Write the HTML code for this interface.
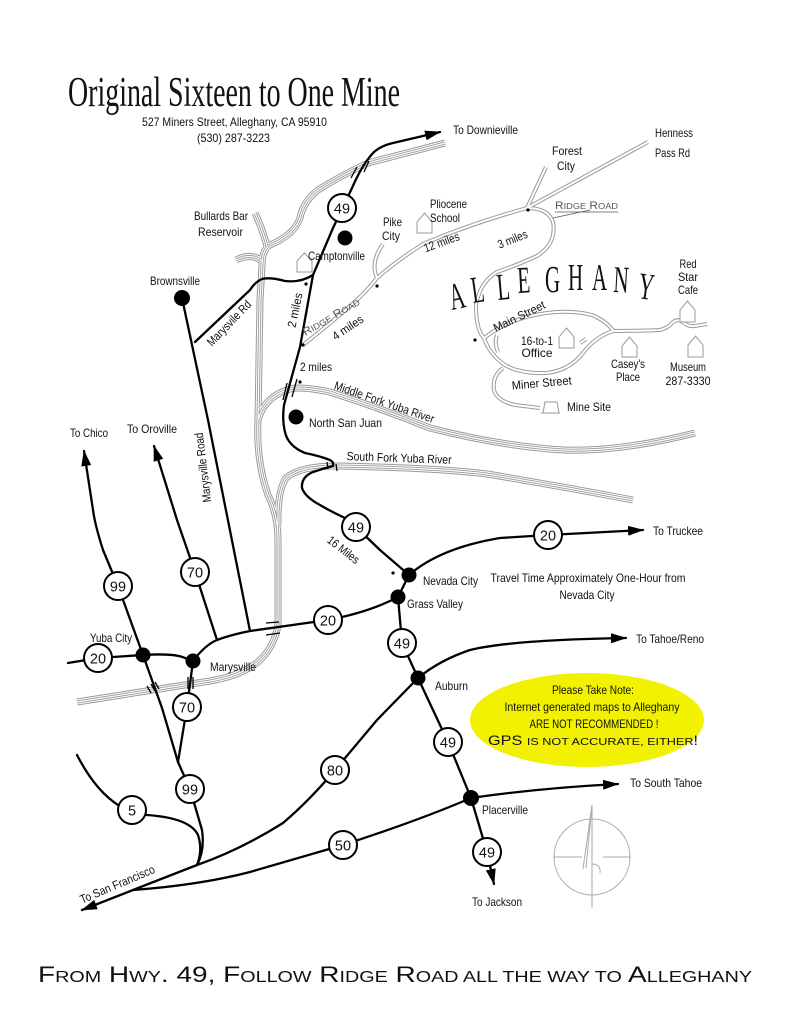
<!DOCTYPE html>
<html><head><meta charset="utf-8"><style>
html,body{margin:0;padding:0;background:#fff;}
svg{display:block}
.l{font-family:"Liberation Sans",sans-serif;font-size:12px;fill:#111}
.n{font-family:"Liberation Sans",sans-serif;font-size:14.5px;fill:#111;text-anchor:middle}
.m{text-anchor:middle}
.rd{fill:none;stroke:#000;stroke-width:2.3;stroke-linecap:round;stroke-linejoin:round}
.g1{fill:none;stroke:#9a9a9a;stroke-width:7}
.g2{fill:none;stroke:#fff;stroke-width:5}
.g3{fill:none;stroke:#9a9a9a;stroke-width:3}
.g4{fill:none;stroke:#fff;stroke-width:1.2}
.d1{fill:none;stroke:#9a9a9a;stroke-width:4}
.d2{fill:none;stroke:#fff;stroke-width:2}
.cab{fill:#fff;stroke:#999;stroke-width:1}
.sh{fill:#fff;stroke:#000;stroke-width:2}
.hm{stroke:#000;stroke-width:1.3;fill:none}
.al{font-family:"Liberation Serif",serif;font-size:38px;fill:#111}
</style></head><body>
<svg width="791" height="1024" viewBox="0 0 791 1024" xmlns="http://www.w3.org/2000/svg">
<defs>
<marker id="ar" markerWidth="16" markerHeight="10" refX="15" refY="5" orient="auto" markerUnits="userSpaceOnUse">
<path d="M0,0 L16,5 L0,10 z" fill="#000"/>
</marker>
<path id="rA" d="M445,143 L368,163 Q340,176 318,190 Q303,202 300,218 Q294,235 270,245 Q262,250 262,265 L260,300 L258,420 Q256,460 268,495 Q278,515 278,540 L278,625 Q274,648 258,662 Q240,676 210,681 L77,702"/>
<path id="rB" d="M255,213 Q262,228 267,246"/>
<path id="rC" d="M236,260 Q252,252 263,262"/>
<path id="rD" d="M695,433 Q620,452 563,450 Q500,446 430,428 Q380,408 330,392 Q300,386 290,389 Q265,396 258,420"/>
<path id="rE" d="M633,500 Q560,486 487,474 Q440,468 337,466 Q300,466 286,478 Q277,492 278,525"/>
<path id="dA" d="M303,345 Q335,320 360,297 Q370,287 377,278 Q395,262 423,244 Q470,224 527,208 Q548,208 553,222 Q557,243 537,256 Q515,266 497,272 Q480,282 476,305 Q476,330 484,338"/>
<path id="dB" d="M377,278 Q370,262 383,244"/>
<path id="dC" d="M527,208 L546,167"/>
<path id="dD" d="M527,208 L648,142"/>
<path id="dE" d="M484,338 Q505,322 530,316 Q565,308 592,315 Q608,322 613,331 Q640,331 660,330 Q668,328 672,323 Q677,318 683,322 Q688,327 695,326 L707,324"/>
<path id="dF" d="M484,338 Q490,355 505,365 Q520,374 547,373 Q570,370 583,353 Q595,337 613,331"/>
<path id="dG" d="M497,335 Q494,343 498,352"/>
<path id="dH" d="M503,368 Q492,376 494,390 Q497,401 515,405 L540,408"/>
<path id="dI" d="M580,343 L586,339"/>
</defs>

<!-- Title -->
<text x="68" y="106" font-family="Liberation Serif, serif" font-size="42" fill="#111" textLength="332" lengthAdjust="spacingAndGlyphs">Original Sixteen to One Mine</text>
<text x="142" y="126" class="l" font-size="13" textLength="185" lengthAdjust="spacingAndGlyphs">527 Miners Street, Alleghany, CA 95910</text>
<text x="197" y="142" class="l" font-size="13" textLength="73" lengthAdjust="spacingAndGlyphs">(530) 287-3223</text>

<!-- Rivers (grey multi-line) -->
<g>
<use href="#rA" class="g1"/><use href="#rB" class="g1"/><use href="#rC" class="g1"/><use href="#rD" class="g1"/><use href="#rE" class="g1"/>
<use href="#rA" class="g2"/><use href="#rB" class="g2"/><use href="#rC" class="g2"/><use href="#rD" class="g2"/><use href="#rE" class="g2"/>
<use href="#rA" class="g3"/><use href="#rB" class="g3"/><use href="#rC" class="g3"/><use href="#rD" class="g3"/><use href="#rE" class="g3"/>
<use href="#rA" class="g4"/><use href="#rB" class="g4"/><use href="#rC" class="g4"/><use href="#rD" class="g4"/><use href="#rE" class="g4"/>
</g>

<!-- Ridge Road and local streets (double line) -->
<g>
<use href="#dA" class="d1"/><use href="#dB" class="d1"/><use href="#dC" class="d1"/><use href="#dD" class="d1"/><use href="#dE" class="d1"/><use href="#dF" class="d1"/><use href="#dG" class="d1"/><use href="#dH" class="d1"/><use href="#dI" class="d1"/>
<use href="#dA" class="d2"/><use href="#dB" class="d2"/><use href="#dC" class="d2"/><use href="#dD" class="d2"/><use href="#dE" class="d2"/><use href="#dF" class="d2"/><use href="#dG" class="d2"/><use href="#dH" class="d2"/><use href="#dI" class="d2"/>
</g>

<!-- Black roads -->
<path class="rd" marker-end="url(#ar)" d="M409,575 L380,550 L356,527 L345,518 Q330,511 320,505 Q305,497 302,488 Q301,477 313,472 Q325,468 333,466 Q334,462 330,460 Q320,456 305,453 Q288,446 285,432 Q282,420 284,405 L300,347 L313,275 L333,228 L352,188 Q362,165 373,153 Q380,146 393,143 L440,132"/>
<path class="rd" d="M313,275 Q300,283 285,281 Q270,277 262,279 Q255,282 250,290 L195,342"/>
<path class="rd" d="M182,298 L208,420 L250,631"/>
<path class="rd" d="M68,663 L98,658 L143,655 Q175,653 185,658 L193,661 Q205,645 217,640 Q230,635 250,631 L328,620 Q370,612 398,597"/>
<path class="rd" marker-end="url(#ar)" d="M143,655 L118,586 L103,550 Q95,525 93,510 L84,451"/>
<path class="rd" marker-end="url(#ar)" d="M217,640 L195,572 L177,520 L154,446"/>
<path class="rd" d="M143,655 L162,708 L178,762 L190,789 L202,830 Q205,850 197,865"/>
<path class="rd" d="M193,661 L187,707 L178,762"/>
<path class="rd" d="M77,755 Q95,790 118,805 L132,810 L147,815 Q190,818 198,835 Q203,850 197,865"/>
<path class="rd" marker-end="url(#ar)" d="M418,678 L377,720 L335,770 Q310,800 283,823 Q240,850 197,865 L133,890 L82,910"/>
<path class="rd" marker-end="url(#ar)" d="M133,890 Q200,885 250,872 L343,845 Q420,820 471,798 Q540,788 618,784"/>
<path class="rd" marker-end="url(#ar)" d="M409,575 L398,597 L402,643 L418,678 L448,742 L471,798 L487,852 L494,884"/>
<path class="rd" marker-end="url(#ar)" d="M409,575 Q440,548 500,538 L548,535 L643,530"/>
<path class="rd" marker-end="url(#ar)" d="M418,678 Q440,660 470,650 Q510,640 626,638"/>

<!-- bridge / hash marks -->
<path class="hm" d="M351,178 L357,167 M364,172 L369,161"/>
<path class="hm" d="M283,400 L287,383 M292,397 L297,379"/>
<path class="hm" d="M327,462 L328,469 M336,464 L337,471"/>
<path class="hm" d="M266,623 L279,622 M266,635 L280,633"/>
<path class="hm" d="M147,686 L151,693 M151,684 L155,691 M155,682 L159,689"/>
<path class="hm" d="M188,677 L188,689 M193,677 L193,689"/>

<!-- Shields -->
<g>
<circle class="sh" cx="342" cy="208" r="14"/><text class="n" x="342" y="213.5">49</text>
<circle class="sh" cx="356" cy="527" r="14"/><text class="n" x="356" y="532.5">49</text>
<circle class="sh" cx="548" cy="535" r="14"/><text class="n" x="548" y="540.5">20</text>
<circle class="sh" cx="328" cy="620" r="14"/><text class="n" x="328" y="625.5">20</text>
<circle class="sh" cx="118" cy="586" r="14"/><text class="n" x="118" y="591.5">99</text>
<circle class="sh" cx="195" cy="572" r="14"/><text class="n" x="195" y="577.5">70</text>
<circle class="sh" cx="98" cy="658" r="14"/><text class="n" x="98" y="663.5">20</text>
<circle class="sh" cx="402" cy="643" r="14"/><text class="n" x="402" y="648.5">49</text>
<circle class="sh" cx="187" cy="707" r="14"/><text class="n" x="187" y="712.5">70</text>
<circle class="sh" cx="448" cy="742" r="14"/><text class="n" x="448" y="747.5">49</text>
<circle class="sh" cx="335" cy="770" r="14"/><text class="n" x="335" y="775.5">80</text>
<circle class="sh" cx="190" cy="789" r="14"/><text class="n" x="190" y="794.5">99</text>
<circle class="sh" cx="132" cy="810" r="14"/><text class="n" x="132" y="815.5">5</text>
<circle class="sh" cx="343" cy="845" r="14"/><text class="n" x="343" y="850.5">50</text>
<circle class="sh" cx="487" cy="852" r="14"/><text class="n" x="487" y="857.5">49</text>
</g>

<!-- Town dots -->
<g fill="#000">
<circle cx="345" cy="238" r="7.5"/>
<circle cx="182" cy="298" r="8"/>
<circle cx="296" cy="417" r="7.5"/>
<circle cx="409" cy="575" r="7.5"/>
<circle cx="398" cy="597" r="7.5"/>
<circle cx="143" cy="655" r="7.5"/>
<circle cx="193" cy="661" r="7.5"/>
<circle cx="418" cy="678" r="7.5"/>
<circle cx="471" cy="798" r="8"/>
<circle cx="303" cy="345" r="1.6"/>
<circle cx="300" cy="382" r="1.6"/>
<circle cx="393" cy="573" r="1.6"/>
<circle cx="475" cy="340" r="1.6"/>
<circle cx="528" cy="210" r="1.6"/>
<circle cx="377" cy="286" r="1.6"/>
<circle cx="306" cy="284" r="1.6"/>
</g>

<!-- Cabins -->
<path class="cab" d="M297,272 L297,261 L304.5,253 L312,261 L312,272 Z"/>
<path class="cab" d="M417,233 L417,222 L424.5,213 L432,222 L432,233 Z"/>
<path class="cab" d="M559,348 L559,337 L566.5,328 L574,337 L574,348 Z"/>
<path class="cab" d="M622,357 L622,346 L629.5,337 L637,346 L637,357 Z"/>
<path class="cab" d="M680,322 L680,310 L687.5,301 L695,310 L695,322 Z"/>
<path class="cab" d="M688,357 L688,345 L695.5,336 L703,345 L703,357 Z"/>
<path class="cab" d="M541,413 L560,413 M543,413 L545,402 L557,402 L559,413"/>

<!-- Labels -->
<g class="l">
<text x="453" y="134" textLength="65" lengthAdjust="spacingAndGlyphs">To Downieville</text>
<text x="655" y="137" textLength="38" lengthAdjust="spacingAndGlyphs">Henness</text>
<text x="655" y="157" textLength="35" lengthAdjust="spacingAndGlyphs">Pass Rd</text>
<text x="552" y="155" textLength="30" lengthAdjust="spacingAndGlyphs">Forest</text>
<text x="557" y="170" textLength="18" lengthAdjust="spacingAndGlyphs">City</text>
<text x="430" y="208" textLength="37" lengthAdjust="spacingAndGlyphs">Pliocene</text>
<text x="430" y="222" textLength="30" lengthAdjust="spacingAndGlyphs">School</text>
<text x="383" y="226" textLength="19" lengthAdjust="spacingAndGlyphs">Pike</text>
<text x="382" y="240" textLength="18" lengthAdjust="spacingAndGlyphs">City</text>
<text x="555" y="209" font-size="11" fill="#555" textLength="63" lengthAdjust="spacingAndGlyphs">R<tspan font-size="8.5">IDGE</tspan> R<tspan font-size="8.5">OAD</tspan></text>
<text transform="translate(443,246) rotate(-20)" class="m" textLength="37" lengthAdjust="spacingAndGlyphs">12 miles</text>
<text transform="translate(514,243) rotate(-22)" class="m" textLength="31" lengthAdjust="spacingAndGlyphs">3 miles</text>
<text x="688" y="268" class="m" textLength="17" lengthAdjust="spacingAndGlyphs">Red</text>
<text x="688" y="281" class="m" textLength="20" lengthAdjust="spacingAndGlyphs">Star</text>
<text x="688" y="294" class="m" textLength="20" lengthAdjust="spacingAndGlyphs">Cafe</text>
<text transform="translate(521,320) rotate(-26)" class="m" textLength="56" lengthAdjust="spacingAndGlyphs">Main Street</text>
<text x="537" y="345" class="m" textLength="32" lengthAdjust="spacingAndGlyphs">16-to-1</text>
<text x="537" y="357" class="m" textLength="31" lengthAdjust="spacingAndGlyphs">Office</text>
<text x="628" y="368" class="m" textLength="34" lengthAdjust="spacingAndGlyphs">Casey's</text>
<text x="628" y="381" class="m" textLength="24" lengthAdjust="spacingAndGlyphs">Place</text>
<text x="688" y="371" class="m" textLength="36" lengthAdjust="spacingAndGlyphs">Museum</text>
<text x="688" y="385" class="m" textLength="45" lengthAdjust="spacingAndGlyphs">287-3330</text>
<text transform="translate(542,387) rotate(-5)" class="m" textLength="60" lengthAdjust="spacingAndGlyphs">Miner Street</text>
<text x="567" y="411" textLength="44" lengthAdjust="spacingAndGlyphs">Mine Site</text>
<text x="194" y="220" textLength="54" lengthAdjust="spacingAndGlyphs">Bullards Bar</text>
<text x="198" y="236" textLength="45" lengthAdjust="spacingAndGlyphs">Reservoir</text>
<text x="308" y="260" textLength="57" lengthAdjust="spacingAndGlyphs">Camptonville</text>
<text x="150" y="285" textLength="50" lengthAdjust="spacingAndGlyphs">Brownsville</text>
<text transform="translate(232,326) rotate(-46)" class="m" textLength="58" lengthAdjust="spacingAndGlyphs">Marysvile Rd</text>
<text transform="translate(299,311) rotate(-78)" class="m" textLength="35" lengthAdjust="spacingAndGlyphs">2 miles</text>
<text transform="translate(333,320) rotate(-30)" class="m" font-size="11" fill="#555" textLength="64" lengthAdjust="spacingAndGlyphs">R<tspan font-size="8.5">IDGE</tspan> R<tspan font-size="8.5">OAD</tspan></text>
<text transform="translate(350,331) rotate(-34)" class="m" textLength="35" lengthAdjust="spacingAndGlyphs">4 miles</text>
<text x="300" y="371" textLength="32" lengthAdjust="spacingAndGlyphs">2 miles</text>
<text transform="translate(383,406) rotate(19)" class="m" textLength="105" lengthAdjust="spacingAndGlyphs">Middle Fork Yuba River</text>
<text x="309" y="427" textLength="73" lengthAdjust="spacingAndGlyphs">North San Juan</text>
<text transform="translate(399,462) rotate(2)" class="m" textLength="105" lengthAdjust="spacingAndGlyphs">South Fork  Yuba River</text>
<text transform="translate(207,467) rotate(-97)" class="m" textLength="70" lengthAdjust="spacingAndGlyphs">Marysville Road</text>
<text x="70" y="437" textLength="38" lengthAdjust="spacingAndGlyphs">To Chico</text>
<text x="127" y="433" textLength="50" lengthAdjust="spacingAndGlyphs">To Oroville</text>
<text transform="translate(341,553) rotate(38)" class="m" textLength="37" lengthAdjust="spacingAndGlyphs">16 Miles</text>
<text x="423" y="585" textLength="55" lengthAdjust="spacingAndGlyphs">Nevada City</text>
<text x="407" y="608" textLength="56" lengthAdjust="spacingAndGlyphs">Grass Valley</text>
<text x="588" y="582" class="m" textLength="195" lengthAdjust="spacingAndGlyphs">Travel Time Approximately One-Hour from</text>
<text x="587" y="599" class="m" textLength="55" lengthAdjust="spacingAndGlyphs">Nevada City</text>
<text x="653" y="535" textLength="50" lengthAdjust="spacingAndGlyphs">To Truckee</text>
<text x="636" y="643" textLength="68" lengthAdjust="spacingAndGlyphs">To Tahoe/Reno</text>
<text x="435" y="690" textLength="33" lengthAdjust="spacingAndGlyphs">Auburn</text>
<text x="90" y="642" textLength="42" lengthAdjust="spacingAndGlyphs">Yuba City</text>
<text x="210" y="671" textLength="46" lengthAdjust="spacingAndGlyphs">Marysville</text>
<text x="482" y="814" textLength="46" lengthAdjust="spacingAndGlyphs">Placerville</text>
<text x="630" y="787" textLength="72" lengthAdjust="spacingAndGlyphs">To South Tahoe</text>
<text x="472" y="906" textLength="50" lengthAdjust="spacingAndGlyphs">To Jackson</text>
<text transform="translate(119,888) rotate(-23)" class="m" textLength="80" lengthAdjust="spacingAndGlyphs">To San Francisco</text>
</g>
<line x1="555" y1="212" x2="618" y2="212" stroke="#555" stroke-width="0.8"/>
<line x1="553" y1="218" x2="590" y2="210" stroke="#555" stroke-width="0.8"/>

<!-- ALLEGHANY -->
<g class="al">
<text transform="translate(452,310) rotate(-12) scale(0.55,1)">A</text>
<text transform="translate(473,303) rotate(-8) scale(0.55,1)">L</text>
<text transform="translate(498,300) rotate(-5) scale(0.55,1)">L</text>
<text transform="translate(518,293) rotate(-3) scale(0.55,1)">E</text>
<text transform="translate(545,292) scale(0.55,1)">G</text>
<text transform="translate(568,290) scale(0.55,1)">H</text>
<text transform="translate(592,290) scale(0.55,1)">A</text>
<text transform="translate(613,292) rotate(3) scale(0.55,1)">N</text>
<text transform="translate(637,298) rotate(8) scale(0.55,1)">Y</text>
</g>

<!-- Note ellipse -->
<ellipse cx="587" cy="720" rx="117" ry="47" fill="#f2f200"/>
<g class="l" font-size="12.5">
<text x="593" y="694" class="m" textLength="82" lengthAdjust="spacingAndGlyphs">Please Take Note:</text>
<text x="592" y="711" class="m" textLength="175" lengthAdjust="spacingAndGlyphs">Internet generated maps to Alleghany</text>
<text x="594" y="728" class="m" textLength="129" lengthAdjust="spacingAndGlyphs">ARE NOT RECOMMENDED !</text>
<text x="593" y="745" class="m" font-size="13.5" textLength="210" lengthAdjust="spacingAndGlyphs">GPS <tspan font-size="10.5">IS NOT ACCURATE, EITHER</tspan>!</text>
</g>

<!-- Compass -->
<g fill="none" stroke="#aaa" stroke-width="1">
<circle cx="592" cy="857" r="38"/>
<path d="M592,805 L592,908 M554,857 L582,857 M603,857 L630,857"/>
<path d="M592,805 L583,869 M592,805 L586,868 M592,864 Q601,864 600,873"/>
</g>

<!-- Caption -->
<text x="38" y="982" font-family="Liberation Sans, sans-serif" font-size="22" fill="#111" textLength="714" lengthAdjust="spacingAndGlyphs">F<tspan font-size="15.5">ROM</tspan> H<tspan font-size="15.5">WY</tspan>. 49, F<tspan font-size="15.5">OLLOW</tspan> R<tspan font-size="15.5">IDGE</tspan> R<tspan font-size="15.5">OAD ALL THE WAY TO</tspan> A<tspan font-size="15.5">LLEGHANY</tspan></text>
</svg>
</body></html>
